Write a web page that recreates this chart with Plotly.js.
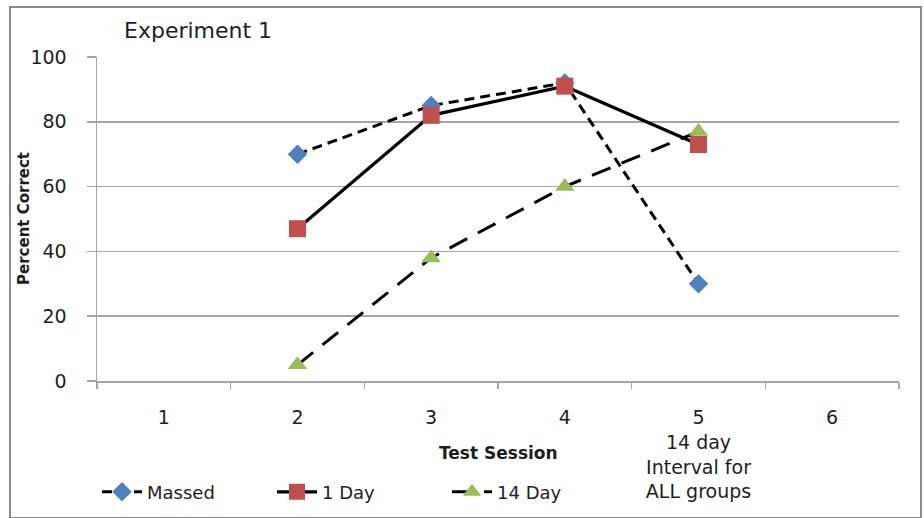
<!DOCTYPE html>
<html>
<head>
<meta charset="utf-8">
<script src="https://cdn.plot.ly/plotly-3.0.1.min.js"></script>
<style>
  html, body { margin: 0; padding: 0; background: #fff; }
  #wrap { position: relative; width: 924px; height: 518px; }
  #chart { width: 924px; height: 518px; }
  #frame { position: absolute; left: 9px; top: 6px; width: 909px; height: 509px;
           border: 2px solid #8a8a8a; pointer-events: none; }
</style>
</head>
<body>
<div id="wrap">
  <div id="chart"></div>
  <div id="frame"></div>
</div>
<script>
// Data
const sessions = [1, 2, 3, 4, 5, 6];
const tickLabels = ['1', '2', '3', '4', '5<br>14 day<br>Interval for<br>ALL groups', '6'];
const dataSessions = [2, 3, 4, 5];
const massed = [70, 85, 92, 30];
const oneDay = [47, 82, 91, 73];
const fourteenDay = [5, 38, 60, 77];

const FONT = '"DejaVu Sans", "Open Sans", sans-serif';
const TXT = '#1e1e1e';

const traces = [
  {
    name: 'Massed', x: dataSessions, y: massed, type: 'scatter', mode: 'lines+markers',
    line: { color: '#000000', width: 3, dash: '10px,6px' },
    marker: { symbol: 'diamond', size: 15, color: '#4F81BD' }
  },
  {
    name: '1 Day', x: dataSessions, y: oneDay, type: 'scatter', mode: 'lines+markers',
    line: { color: '#000000', width: 3.2 },
    marker: { symbol: 'square', size: 17, color: '#C0504D' }
  },
  {
    name: '14 Day', x: dataSessions, y: fourteenDay, type: 'scatter', mode: 'lines+markers',
    line: { color: '#000000', width: 3, dash: '20px,12px' },
    marker: { symbol: 'triangle-up', size: 17, color: '#9BBB59' }
  }
];

const boundaries = [];
for (let i = 0; i <= sessions.length; i++) boundaries.push(sessions[0] - 0.5 + i);

const layout = {
  width: 924, height: 518,
  margin: { l: 97, r: 25, t: 57, b: 137, autoexpand: false },
  paper_bgcolor: '#ffffff', plot_bgcolor: '#ffffff',
  font: { family: FONT, color: TXT, size: 18 },
  title: {
    text: 'Experiment 1', x: 124 / 924, xanchor: 'left', xref: 'container',
    y: 1 - 30 / 518, yanchor: 'middle', yref: 'container',
    font: { family: FONT, size: 22, color: TXT }
  },
  showlegend: true,
  legend: {
    orientation: 'h', x: 0.0, xanchor: 'left', y: -0.343, yanchor: 'middle',
    font: { family: FONT, size: 18, color: TXT },
    traceorder: 'normal', entrywidth: 120, itemwidth: 40
  },
  xaxis: {
    range: [0.5, 6.5], fixedrange: true, automargin: false,
    tickmode: 'array', tickvals: sessions, ticktext: tickLabels,
    ticks: '', showgrid: false, zeroline: false,
    showline: true, linecolor: '#a6a6a6', linewidth: 1.5,
    ticklabelstandoff: 19,
    tickfont: { family: FONT, size: 19, color: TXT },
    minor: { tickmode: 'array', tickvals: boundaries, ticks: 'outside', ticklen: 6,
             tickcolor: '#a6a6a6', tickwidth: 1.5, showgrid: false }
  },
  yaxis: {
    range: [0, 100], dtick: 20, tick0: 0, fixedrange: true, automargin: false,
    ticks: 'outside', ticklen: 9, tickcolor: '#a6a6a6', tickwidth: 1.5,
    showgrid: true, gridcolor: '#a6a6a6', gridwidth: 1.5, zeroline: false,
    showline: true, linecolor: '#a6a6a6', linewidth: 1.5,
    ticklabelstandoff: 16,
    tickfont: { family: FONT, size: 19, color: TXT }
  },
  annotations: [
    { text: '<b>Test Session</b>', xref: 'paper', yref: 'paper', x: 0.5, y: (381 - 453) / 324,
      xanchor: 'center', yanchor: 'middle', showarrow: false,
      font: { family: FONT, size: 17, color: TXT } },
    { text: '<b>Percent Correct</b>', xref: 'paper', yref: 'paper', x: (24 - 97) / 802, y: 0.5,
      xanchor: 'center', yanchor: 'middle', textangle: -90, showarrow: false,
      font: { family: FONT, size: 15, color: TXT } }
  ]
};

Plotly.newPlot('chart', traces, layout, { displayModeBar: false, staticPlot: true });
</script>
</body>
</html>
